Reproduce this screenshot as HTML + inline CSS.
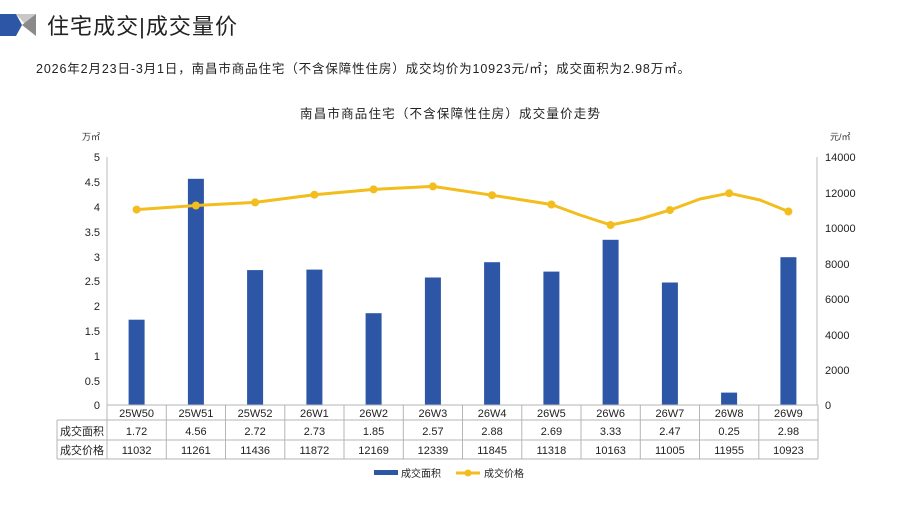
<!DOCTYPE html>
<html><head><meta charset="utf-8"><style>
body{margin:0;background:#fff;width:897px;height:505px;overflow:hidden;font-family:"Liberation Sans","Noto Sans CJK SC",sans-serif}
</style></head><body>
<svg width="897" height="505" viewBox="0 0 897 505" xmlns="http://www.w3.org/2000/svg" font-family="Liberation Sans, Noto Sans CJK SC, sans-serif">
<polygon points="0,14 16,14 22,25 16,36 0,36" fill="#2e56a6"/>
<polygon points="16,14 36,14 36,36" fill="#c8c8c8"/>
<polygon points="22,25 36,14 36,36" fill="#8a8a8a"/>
<text x="47" y="34" font-size="22" fill="#222" textLength="190" lengthAdjust="spacing">住宅成交|成交量价</text>
<text x="36" y="73" font-size="12.5" fill="#222" textLength="654" lengthAdjust="spacing">2026年2月23日-3月1日，南昌市商品住宅（不含保障性住房）成交均价为10923元/㎡；成交面积为2.98万㎡。</text>
<text x="300" y="118" font-size="12.5" fill="#222" textLength="300" lengthAdjust="spacing">南昌市商品住宅（不含保障性住房）成交量价走势</text>
<text x="82" y="140" font-size="9" fill="#333">万㎡</text>
<text x="830" y="140" font-size="9" fill="#333">元/㎡</text>
<g stroke="#bbb" stroke-width="1">
<line x1="107" y1="157" x2="107" y2="405"/>
<line x1="817" y1="157" x2="817" y2="405"/>
</g>
<g font-size="11" fill="#222" text-anchor="end">
<text x="100" y="161">5</text><text x="100" y="186">4.5</text><text x="100" y="211">4</text><text x="100" y="236">3.5</text><text x="100" y="261">3</text><text x="100" y="285">2.5</text><text x="100" y="310">2</text><text x="100" y="335">1.5</text><text x="100" y="360">1</text><text x="100" y="385">0.5</text><text x="100" y="409">0</text>
</g>
<g font-size="11" fill="#222">
<text x="825" y="161">14000</text><text x="825" y="197">12000</text><text x="825" y="232">10000</text><text x="825" y="268">8000</text><text x="825" y="303">6000</text><text x="825" y="339">4000</text><text x="825" y="374">2000</text><text x="825" y="409">0</text>
</g>
<g fill="#2e56a6">
<rect x="128.6" y="319.7" width="16" height="85.3"/>
<rect x="187.9" y="178.8" width="16" height="226.2"/>
<rect x="247.1" y="270.1" width="16" height="134.9"/>
<rect x="306.4" y="269.6" width="16" height="135.4"/>
<rect x="365.6" y="313.2" width="16" height="91.8"/>
<rect x="424.9" y="277.5" width="16" height="127.5"/>
<rect x="484.1" y="262.2" width="16" height="142.8"/>
<rect x="543.4" y="271.6" width="16" height="133.4"/>
<rect x="602.6" y="239.8" width="16" height="165.2"/>
<rect x="661.9" y="282.5" width="16" height="122.5"/>
<rect x="721.1" y="392.6" width="16" height="12.4"/>
<rect x="780.4" y="257.2" width="16" height="147.8"/>
</g>
<polyline fill="none" stroke="#f2bd1d" stroke-width="3" stroke-linejoin="round" points="136.6,209.6 195.9,205.5 255.1,202.4 314.4,194.7 373.6,189.4 432.9,186.4 492.1,195.2 551.4,204.5 580,215 610.6,225 640,219 669.9,210.1 700,199 729.1,193.2 760,200 788.4,211.5"/>
<g fill="#f2bd1d">
<circle cx="136.6" cy="209.6" r="4"/><circle cx="195.9" cy="205.5" r="4"/><circle cx="255.1" cy="202.4" r="4"/><circle cx="314.4" cy="194.7" r="4"/><circle cx="373.6" cy="189.4" r="4"/><circle cx="432.9" cy="186.4" r="4"/><circle cx="492.1" cy="195.2" r="4"/><circle cx="551.4" cy="204.5" r="4"/><circle cx="610.6" cy="225" r="4"/><circle cx="669.9" cy="210.1" r="4"/><circle cx="729.1" cy="193.2" r="4"/><circle cx="788.4" cy="211.5" r="4"/>
</g>
<g stroke="#b5b5b5" stroke-width="1" fill="none">
<line x1="107" y1="405" x2="818" y2="405"/>
<line x1="57" y1="420" x2="818" y2="420"/>
<line x1="57" y1="440" x2="818" y2="440"/>
<line x1="57" y1="459" x2="818" y2="459"/>
<line x1="57" y1="420" x2="57" y2="459"/>
<line x1="107" y1="405" x2="107" y2="459"/>
<line x1="166.3" y1="405" x2="166.3" y2="459"/><line x1="225.5" y1="405" x2="225.5" y2="459"/><line x1="284.8" y1="405" x2="284.8" y2="459"/><line x1="344" y1="405" x2="344" y2="459"/><line x1="403.3" y1="405" x2="403.3" y2="459"/><line x1="462.5" y1="405" x2="462.5" y2="459"/><line x1="521.8" y1="405" x2="521.8" y2="459"/><line x1="581" y1="405" x2="581" y2="459"/><line x1="640.3" y1="405" x2="640.3" y2="459"/><line x1="699.5" y1="405" x2="699.5" y2="459"/><line x1="758.8" y1="405" x2="758.8" y2="459"/><line x1="818" y1="405" x2="818" y2="459"/>
</g>
<g font-size="11" fill="#222" text-anchor="middle">
<text x="136.6" y="417">25W50</text><text x="195.9" y="417">25W51</text><text x="255.1" y="417">25W52</text><text x="314.4" y="417">26W1</text><text x="373.6" y="417">26W2</text><text x="432.9" y="417">26W3</text><text x="492.1" y="417">26W4</text><text x="551.4" y="417">26W5</text><text x="610.6" y="417">26W6</text><text x="669.9" y="417">26W7</text><text x="729.1" y="417">26W8</text><text x="788.4" y="417">26W9</text>
<text x="136.6" y="435">1.72</text><text x="195.9" y="435">4.56</text><text x="255.1" y="435">2.72</text><text x="314.4" y="435">2.73</text><text x="373.6" y="435">1.85</text><text x="432.9" y="435">2.57</text><text x="492.1" y="435">2.88</text><text x="551.4" y="435">2.69</text><text x="610.6" y="435">3.33</text><text x="669.9" y="435">2.47</text><text x="729.1" y="435">0.25</text><text x="788.4" y="435">2.98</text>
<text x="136.6" y="454">11032</text><text x="195.9" y="454">11261</text><text x="255.1" y="454">11436</text><text x="314.4" y="454">11872</text><text x="373.6" y="454">12169</text><text x="432.9" y="454">12339</text><text x="492.1" y="454">11845</text><text x="551.4" y="454">11318</text><text x="610.6" y="454">10163</text><text x="669.9" y="454">11005</text><text x="729.1" y="454">11955</text><text x="788.4" y="454">10923</text>
</g>
<g font-size="11" fill="#222">
<text x="60" y="435" textLength="44" lengthAdjust="spacing">成交面积</text><text x="60" y="454" textLength="44" lengthAdjust="spacing">成交价格</text>
</g>
<rect x="374" y="470" width="24" height="5" fill="#2e56a6"/>
<text x="401" y="477" font-size="10" fill="#222">成交面积</text>
<line x1="456" y1="473" x2="480" y2="473" stroke="#f2bd1d" stroke-width="3"/>
<circle cx="468" cy="473" r="3.5" fill="#f2bd1d"/>
<text x="484" y="477" font-size="10" fill="#222">成交价格</text>
</svg>
</body></html>
